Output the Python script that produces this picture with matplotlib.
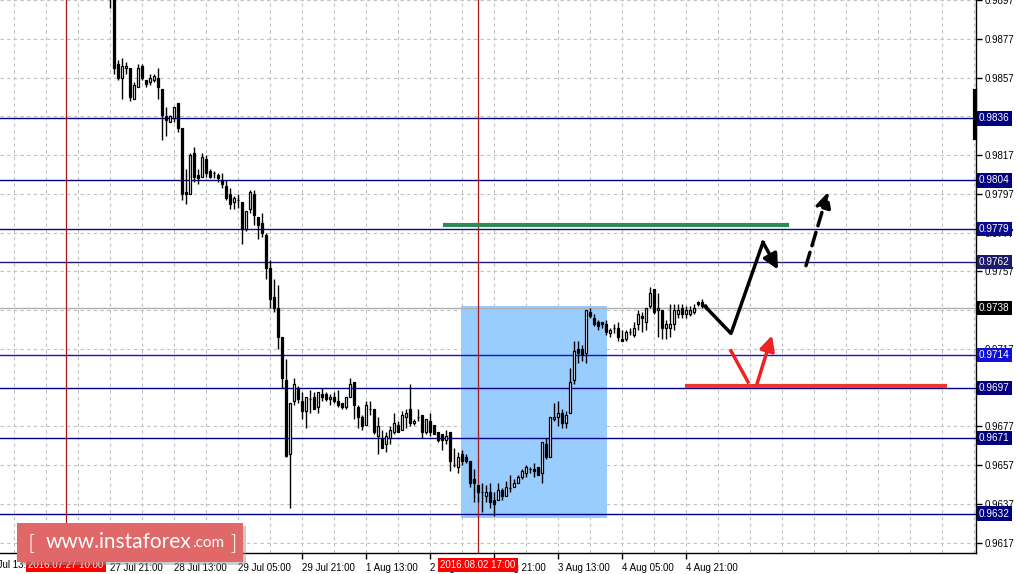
import matplotlib
matplotlib.use("Agg")
import matplotlib.pyplot as plt
from matplotlib.patches import Rectangle
import numpy as np

plt.rcParams['font.family'] = ['Liberation Sans', 'DejaVu Sans']

# H1 candles, index 0 = 27 Jul 21:00
opens = [.9915, .9903, .9864, .9857, .9862, .9862, .9846, .9852, .9863, .9856,
         .9855, .9856, .9857, .9851, .9837, .9834, .9836, .9844, .9831, .9798,
         .9797, .9818, .9807, .9806, .9815, .9809, .9808, .9807, .9804, .9801,
         .9797, .9793, .9794, .9793, .9779, .9789, .9797, .9785, .9782, .9776,
         .9759, .9744, .9738, .9723, .9701, .9663, .9690, .9697, .9690, .9685,
         .9691, .9692, .9687, .9694, .9694, .9691, .9692, .9690, .9689, .9687,
         .9692, .9700, .9687, .9682, .9678, .9686, .9686, .9672, .9671, .9668,
         .9671, .9674, .9678, .9675, .9682, .9686, .9679, .9682, .9683, .9674,
         .9680, .9678, .9674, .9673, .9670, .9674, .9657, .9656, .9663, .9661,
         .9659, .9650, .9647, .9643, .9641, .9643, .9639, .9639, .9644, .9641,
         .9645, .9646, .9648, .9651, .9653, .9655, .9655, .9656, .9653, .9668,
         .9661, .9681, .9682, .9684, .9679, .9684, .9701, .9717, .9717, .9715,
         .9736, .9733, .9731, .9731, .9730, .9725, .9728, .9728, .9722, .9722,
         .9726, .9724, .9730, .9734, .9731, .9739, .9748, .9737, .9737, .9728,
         .9728, .9730, .9735, .9738, .9735, .9735, .9736, .9741, .9741, .9739]
highs = [.9918, .9906, .9866, .9867, .9865, .9862, .9855, .9864, .9864, .9856,
         .9859, .9859, .9862, .9851, .9842, .9838, .9842, .9844, .9831, .9810,
         .9818, .9821, .9810, .9818, .9817, .9810, .9809, .9808, .9808, .9804,
         .9800, .9796, .9797, .9793, .9788, .9799, .9799, .9785, .9787, .9777,
         .9763, .9753, .9750, .9723, .9712, .9689, .9702, .9698, .9695, .9692,
         .9696, .9695, .9695, .9697, .9695, .9694, .9695, .9696, .9689, .9692,
         .9702, .9700, .9688, .9683, .9690, .9690, .9686, .9682, .9675, .9674,
         .9677, .9684, .9680, .9685, .9686, .9699, .9681, .9686, .9683, .9681,
         .9684, .9678, .9674, .9673, .9675, .9674, .9666, .9664, .9665, .9663,
         .9659, .9655, .9647, .9648, .9647, .9648, .9643, .9648, .9645, .9649,
         .9652, .9650, .9652, .9655, .9657, .9656, .9658, .9656, .9669, .9671,
         .9682, .9689, .9690, .9686, .9685, .9707, .9721, .9721, .9719, .9737,
         .9738, .9735, .9732, .9731, .9732, .9728, .9730, .9731, .9727, .9727,
         .9728, .9731, .9737, .9736, .9738, .9749, .9748, .9746, .9737, .9732,
         .9740, .9740, .9740, .9740, .9739, .9739, .9740, .9742, .9743, .9740]
lows = [.9893, .9859, .9856, .9846, .9859, .9845, .9846, .9852, .9856, .9852,
        .9853, .9855, .9846, .9825, .9827, .9834, .9834, .9829, .9794, .9792,
        .9797, .9803, .9802, .9806, .9806, .9805, .9805, .9803, .9800, .9794,
        .9789, .9789, .9790, .9771, .9778, .9787, .9781, .9774, .9775, .9753,
        .9738, .9736, .9717, .9697, .9661, .9635, .9688, .9689, .9681, .9676,
        .9684, .9686, .9684, .9690, .9690, .9688, .9689, .9687, .9686, .9686,
        .9692, .9681, .9676, .9675, .9678, .9683, .9673, .9663, .9666, .9664,
        .9668, .9673, .9674, .9675, .9676, .9677, .9678, .9680, .9671, .9673,
        .9672, .9673, .9669, .9665, .9668, .9654, .9656, .9653, .9657, .9658,
        .9646, .9638, .9638, .9633, .9638, .9635, .9631, .9639, .9639, .9641,
        .9643, .9646, .9648, .9650, .9651, .9653, .9651, .9652, .9648, .9660,
        .9661, .9680, .9677, .9676, .9676, .9684, .9699, .9710, .9711, .9710,
        .9733, .9729, .9727, .9728, .9724, .9723, .9725, .9721, .9721, .9721,
        .9724, .9723, .9727, .9726, .9727, .9738, .9735, .9723, .9722, .9722,
        .9723, .9727, .9733, .9733, .9733, .9734, .9735, .9739, .9738, .9737]
closes = [.9906, .9862, .9857, .9863, .9863, .9847, .9853, .9862, .9857, .9854,
          .9857, .9858, .9852, .9838, .9835, .9837, .9842, .9831, .9797, .9797,
          .9817, .9806, .9805, .9816, .9808, .9806, .9808, .9805, .9802, .9795,
          .9792, .9795, .9794, .9779, .9788, .9798, .9786, .9781, .9777, .9759,
          .9743, .9738, .9723, .9702, .9662, .9689, .9699, .9691, .9685, .9692,
          .9691, .9686, .9695, .9692, .9691, .9692, .9690, .9688, .9687, .9692,
          .9699, .9688, .9682, .9677, .9688, .9686, .9674, .9677, .9666, .9672,
          .9675, .9679, .9674, .9683, .9684, .9679, .9680, .9682, .9674, .9681,
          .9674, .9673, .9670, .9670, .9672, .9659, .9657, .9661, .9659, .9659,
          .9648, .9648, .9643, .9643, .9643, .9638, .9637, .9644, .9641, .9646,
          .9645, .9648, .9651, .9654, .9656, .9655, .9654, .9652, .9669, .9661,
          .9682, .9682, .9684, .9679, .9683, .9700, .9716, .9715, .9714, .9737,
          .9734, .9730, .9729, .9730, .9726, .9727, .9728, .9723, .9721, .9726,
          .9726, .9728, .9735, .9733, .9738, .9746, .9736, .9738, .9728, .9730,
          .9730, .9737, .9737, .9735, .9737, .9737, .9738, .9740, .9739, .9738]

# time axis labels (candle index)
time_ticks = [-16, 0, 16, 32, 48, 64, 80, 96, 112, 128, 144]
time_labels = ["27 Jul 05:00", "27 Jul 21:00", "28 Jul 13:00",
               "29 Jul 05:00", "29 Jul 21:00", "1 Aug 13:00", "2 Aug 05:00",
               "2 Aug 21:00", "3 Aug 13:00", "4 Aug 05:00", "4 Aug 21:00"]
first_label = (-32, "26 Jul 13:00")   # starts left of the chart, cut off
marker_times = [-11, 92]
marker_labels = ["2016.07.27 10:00", "2016.08.02 17:00"]

grid_prices = [0.9897, 0.9877, 0.9857, 0.9837, 0.9817, 0.9797, 0.9777, 0.9757,
               0.9737, 0.9717, 0.9697, 0.9677, 0.9657, 0.9637, 0.9617]
# labels hidden behind level boxes in the original are left out
price_ticks = [0.9897, 0.9877, 0.9857, 0.9817, 0.9797, 0.9777, 0.9757,
               0.9717, 0.9677, 0.9657, 0.9637, 0.9617]

# horizontal levels and their label colours
levels = [0.9836, 0.9804, 0.9779, 0.9762, 0.9714, 0.9697, 0.9671, 0.9632]
level_colors = ['#000080', '#000080', '#0a0a90', '#1c1c6a', '#1010d8',
                '#000080', '#000080', '#000080']
bid = 0.9738

# drawn objects
box = (87.75, 124.25, 0.9630, 0.9739)
green_line = ([83.25, 169.75], [0.9781, 0.9781])
red_line = ([143.75, 209.25], [0.9698, 0.9698])
black_path = ([148.75, 155.25, 163.25], [0.9739, 0.9725, 0.9772])
black_tip = (167.0, 0.9758)
black_dash = ((174.0, 0.9760), (179.5, 0.9798))
red_path = ([155.25, 159.5], [0.9716, 0.9700])
red_arrow = ((161.75, 0.9699), (165.5, 0.9724))

fig = plt.figure(figsize=(10.17, 5.74), dpi=100)
ax = fig.add_axes([0, 1 - 553 / 574, 976 / 1017, 553 / 574])
xmin, xmax = -27.5, 216.5
ymin, ymax = 0.96117, 0.98971

for s in ['top', 'left']:
    ax.spines[s].set_visible(False)
ax.spines['right'].set_linewidth(1.0)
ax.spines['bottom'].set_linewidth(1.0)

# grid
for gx in range(-24, 220, 8):
    ax.axvline(gx, color='#c0c0c0', lw=0.8, ls=(0, (3, 3)), zorder=0)
for gy in grid_prices:
    ax.axhline(gy, color='#c0c0c0', lw=0.8, ls=(0, (3, 3)), zorder=0)

ax.add_patch(Rectangle((box[0], box[2]), box[1] - box[0], box[3] - box[2],
                       facecolor='#99ccff', edgecolor='none', zorder=0.5))

for lv, col in zip(levels, level_colors):
    ax.axhline(lv, color=col, lw=1.0, zorder=1)
ax.axhline(bid, color='#b0b0b0', lw=1.0, zorder=1)

for t in marker_times:
    ax.axvline(t, color='#a81818', lw=0.9, zorder=1.2)

# candles
idx = np.arange(len(opens))
o = np.array(opens); h = np.array(highs); l = np.array(lows); c = np.array(closes)
ax.vlines(idx, l, h, color='black', lw=1.0, zorder=3)
bull = c >= o
ax.bar(idx[bull], (c - o)[bull], bottom=o[bull], width=0.62,
       facecolor='white', edgecolor='black', lw=0.9, zorder=4)
ax.bar(idx[~bull], (o - c)[~bull], bottom=c[~bull], width=0.62,
       facecolor='black', edgecolor='black', lw=0.9, zorder=4)

# analysis drawings
head = '-|>,head_length=0.9,head_width=0.45'
ax.plot(*green_line, color='#2e8b57', lw=3, solid_capstyle='butt', zorder=5)
ax.plot(*red_line, color='#ee3333', lw=3, solid_capstyle='butt', zorder=5)
ax.plot(*black_path, color='black', lw=2.5, zorder=6)
ax.annotate('', xy=black_tip, xytext=(black_path[0][-1], black_path[1][-1]),
            arrowprops=dict(arrowstyle=head, color='black', lw=2.5,
                            shrinkA=0, shrinkB=0), zorder=6)
ax.annotate('', xy=black_dash[1], xytext=black_dash[0],
            arrowprops=dict(arrowstyle=head, color='black', lw=2.5,
                            ls=(0, (4, 2)), shrinkA=0, shrinkB=0), zorder=6)
ax.plot(*red_path, color='#ee2222', lw=2.5, zorder=6)
ax.annotate('', xy=red_arrow[1], xytext=red_arrow[0],
            arrowprops=dict(arrowstyle=head, color='#ee2222', lw=2.5,
                            shrinkA=0, shrinkB=0), zorder=6)

# axes ticks
ax.yaxis.tick_right()
ax.set_yticks(price_ticks)
ax.set_yticklabels([f"{p:.4f}" for p in price_ticks])
ax.set_xticks(time_ticks)
ax.set_xticklabels(time_labels, ha='left')
ax.tick_params(axis='both', direction='out', length=4, width=1, labelsize=7,
               colors='black', pad=2)
ax.tick_params(axis='x', pad=3)
ax.set_xlim(xmin, xmax)
ax.set_ylim(ymin, ymax)

xtr = ax.get_xaxis_transform()
ax.text(first_label[0] + 0.5, -0.022, first_label[1], transform=xtr,
        va='center', ha='left', fontsize=7, clip_on=False)

ytr = ax.get_yaxis_transform()
for lv, col in zip(levels, level_colors):
    ax.text(1.003, lv, f"{lv:.4f}", transform=ytr, va='center', ha='left',
            color='white', fontsize=7.2, clip_on=False, zorder=10,
            bbox=dict(boxstyle='square,pad=0.22', fc=col, ec='none'))
ax.text(1.003, bid, f"{bid:.4f}", transform=ytr, va='center', ha='left',
        color='white', fontsize=7.2, clip_on=False, zorder=10,
        bbox=dict(boxstyle='square,pad=0.22', fc='black', ec='none'))

for t, lab in zip(marker_times, marker_labels):
    ax.text(t, -0.022, lab, transform=xtr, va='center', ha='center',
            color='white', fontsize=7, clip_on=False, zorder=10,
            bbox=dict(boxstyle='square,pad=0.2', fc='#ff0000', ec='none'))

# small marker at the right edge
ax.plot([0.999, 0.999], [0.9850, 0.9826], transform=ytr, color='black',
        lw=3, clip_on=False, zorder=10)

# watermark
fig.patches.append(Rectangle((20 / 1017, 1 - 565 / 574), 226 / 1017, 39 / 574,
                             transform=fig.transFigure, facecolor='#9a9a9a',
                             alpha=0.5, edgecolor='none', zorder=20))
fig.patches.append(Rectangle((17 / 1017, 1 - 562 / 574), 226 / 1017, 39 / 574,
                             transform=fig.transFigure, facecolor='#e06868',
                             edgecolor='none', zorder=21))
fig.text(28 / 1017, 1 - 543 / 574, "[", color='white', fontsize=16, va='center',
         ha='left', zorder=22, fontfamily='DejaVu Sans', fontweight='light')
wm = fig.text(46 / 1017, 1 - 542 / 574, "www.instaforex", color='white',
              fontsize=15, va='center', ha='left', zorder=22, fontfamily='Lato')
renderer = fig.canvas.get_renderer()
bb = wm.get_window_extent(renderer)
fig.text(bb.x1 / 1017 + 0.001, 1 - 543 / 574, ".com", color='white', fontsize=11,
         va='center', ha='left', zorder=22, fontfamily='Lato')
fig.text(228 / 1017, 1 - 543 / 574, "]", color='white', fontsize=16, va='center',
         ha='left', zorder=22, fontfamily='DejaVu Sans', fontweight='light')

fig.savefig("out.png", dpi=100)
